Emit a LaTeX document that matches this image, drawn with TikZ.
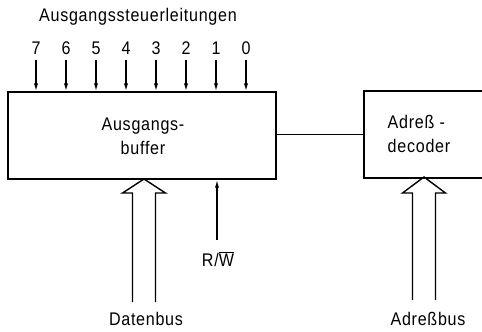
\documentclass[tikz,border=0pt]{standalone}
\usepackage{fontspec}
\setmainfont{Liberation Sans}[LetterSpace=4.0, FakeStretch=0.88]
\usepackage{tikz}
\usetikzlibrary{calc}
\usetikzlibrary{positioning}
\usetikzlibrary{arrows.meta}

\begin{document}
\begin{tikzpicture}[x=0.025cm, y=-0.025cm,
    lbl/.style={inner sep=0pt, font=\fontsize{13}{17}\selectfont},
    blk/.style={draw, line width=1.4pt, inner sep=0pt},
    sig/.style={line width=0.8pt, -{Latex[length=5.5pt, width=3pt]}},
    bus/.style={line width=1pt, line join=miter}]
  \useasboundingbox (0,0) rectangle (482,331);
  \clip (0,0) rectangle (482,331);
  % blocks
  \node[blk, minimum width=268*0.025cm, minimum height=87*0.025cm] (buf) at (142,135.5) {};
  \node[lbl, align=center] (buftxt) at (143,136) {Ausgangs-\\buffer};
  \node[blk, minimum width=150*0.025cm, minimum height=87*0.025cm, anchor=north west] (dec) at (363,90) {};
  \node[lbl, align=left] (dectxt) at (419,134) {Adreß -\\decoder};
  \draw[line width=1pt] (dec.west -| buf.east) -- (dec.west);
  % control lines
  \node[lbl] (title) at (138,17) {Ausgangssteuerleitungen};
  \foreach \b [count=\i from 0] in {7,6,5,4,3,2,1,0}{
    \node[lbl] (d\b) at ({36+30*\i},48) {\b};
    \coordinate (c\b) at ({36+30*\i},60);
    \draw[sig] (c\b) -- (c\b |- buf.north);
  }
  % R/W
  \node[lbl] (rw) at (218,259) {R/$\overline{\hbox{W}}$};
  \coordinate (rwtop) at (217,240);
  \draw[sig] (rwtop) -- (rwtop |- buf.south);
  % data bus
  \coordinate (dtip) at (144,179);
  \draw[bus] ($(dtip)+(-11.5,123)$) -- ($(dtip)+(-11.5,14)$) -- ($(dtip)+(-21.5,14)$)
    -- (dtip) -- ($(dtip)+(21.5,14)$) -- ($(dtip)+(11.5,14)$) -- ($(dtip)+(11.5,123)$);
  \node[lbl] (dbus) at (146,319) {Datenbus};
  % address bus
  \coordinate (atip) at (424,177);
  \draw[bus] ($(atip)+(-11.5,123)$) -- ($(atip)+(-11.5,16)$) -- ($(atip)+(-21.5,16)$)
    -- (atip) -- ($(atip)+(21.5,16)$) -- ($(atip)+(11.5,16)$) -- ($(atip)+(11.5,123)$);
  \node[lbl] (abus) at (428,319) {Adreßbus};
\end{tikzpicture}
\end{document}
